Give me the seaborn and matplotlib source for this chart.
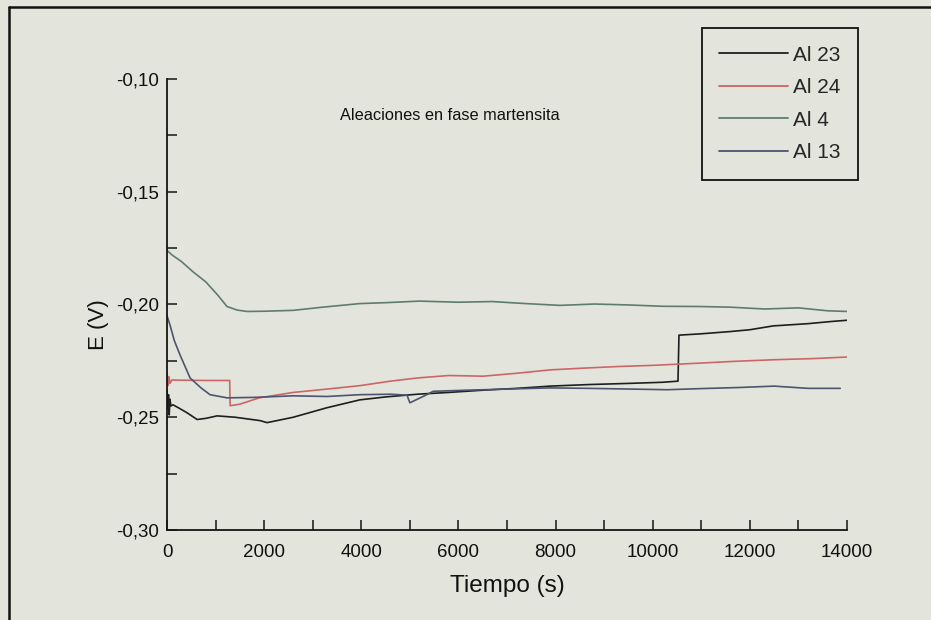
import matplotlib
matplotlib.use("Agg")
import matplotlib.pyplot as plt
from matplotlib.lines import Line2D
from matplotlib.ticker import MultipleLocator, FuncFormatter
import numpy as np
import pandas as pd
import seaborn as sns

# ---------------- data ----------------
series_names = ["Al 23", "Al 24", "Al 4", "Al 13"]

t_al23 = [0, 15, 30, 45, 60, 80, 125, 250, 410, 620, 800, 1030, 1400, 1915, 2060,
          2600, 3290, 3970, 4500, 5150, 5800, 6510, 7200, 7890, 8700, 9500, 10200,
          10520, 10540, 11000, 11600, 12000, 12480, 13200, 13700, 14000]
v_al23 = [-0.238, -0.246, -0.240, -0.249, -0.242, -0.245, -0.2445, -0.2460, -0.248,
          -0.251, -0.2505, -0.2494, -0.2500, -0.2515, -0.2524, -0.2500, -0.2458,
          -0.2423, -0.2410, -0.2398, -0.2390, -0.2380, -0.2372, -0.2362, -0.2355,
          -0.2350, -0.2345, -0.2340, -0.2136, -0.2130, -0.2120, -0.2112, -0.2095,
          -0.2085, -0.2075, -0.2070]

t_al24 = [0, 20, 40, 60, 100, 400, 800, 1290, 1300, 1500, 1900, 2600, 3300, 3970,
          4600, 5150, 5800, 6510, 7200, 7890, 8600, 9300, 10000, 10975, 11700, 12500,
          13300, 14000]
v_al24 = [-0.230, -0.236, -0.232, -0.235, -0.2335, -0.2336, -0.2337, -0.2337,
          -0.2449, -0.2442, -0.2414, -0.2390, -0.2375, -0.2360, -0.2340, -0.2326,
          -0.2315, -0.2318, -0.2305, -0.2290, -0.2282, -0.2275, -0.2270, -0.2260,
          -0.2252, -0.2245, -0.2240, -0.2233]

t_al4 = [0, 100, 300, 535, 800, 1050, 1235, 1450, 1650, 2000, 2600, 3200, 3970, 4500,
         5200, 6000, 6700, 7300, 8090, 8800, 9500, 10200, 10975, 11600, 12300, 13000,
         13600, 14000]
v_al4 = [-0.176, -0.178, -0.181, -0.1855, -0.190, -0.196, -0.2009, -0.2025, -0.2031,
         -0.2030, -0.2026, -0.2012, -0.1996, -0.1992, -0.1985, -0.1990, -0.1987,
         -0.1995, -0.2004, -0.1998, -0.2002, -0.2008, -0.2009, -0.2012, -0.2020,
         -0.2015, -0.2028, -0.2031]

t_al13 = [0, 60, 150, 270, 475, 700, 885, 1235, 1800, 2600, 3300, 3970, 4600, 4940,
          5000, 5300, 5480, 6200, 7000, 7890, 8700, 9500, 10300, 11000, 11800, 12500,
          13200, 13860]
v_al13 = [-0.205, -0.209, -0.216, -0.2225, -0.2326, -0.2370, -0.2400, -0.2414,
          -0.2412, -0.2405, -0.2408, -0.2400, -0.2398, -0.2402, -0.2436, -0.2405,
          -0.2385, -0.2380, -0.2375, -0.2370, -0.2372, -0.2375, -0.2378, -0.2373,
          -0.2368, -0.2362, -0.2372, -0.2372]

x_ticks = [0, 2000, 4000, 6000, 8000, 10000, 12000, 14000]
y_ticks = [-0.30, -0.25, -0.20, -0.15, -0.10]

colors = {"Al 23": "#1e1e1e", "Al 24": "#cc6666", "Al 4": "#5e7c6c", "Al 13": "#4c5470"}

frames = []
for name, tt, vv in zip(series_names, [t_al23, t_al24, t_al4, t_al13],
                        [v_al23, v_al24, v_al4, v_al13]):
    frames.append(pd.DataFrame({"t": tt, "v": vv, "serie": name}))
df = pd.concat(frames, ignore_index=True)

# ---------------- style ----------------
sns.set_theme(style="ticks")
bg = "#e3e5dc"
plt.rcParams["font.family"] = ["Liberation Sans", "DejaVu Sans"]

fig = plt.figure(figsize=(9.31, 6.2), dpi=100, facecolor=bg)
ax = fig.add_axes([0.1794, 0.1452, 0.7304, 0.7274])
ax.set_facecolor(bg)

sns.lineplot(data=df, x="t", y="v", hue="serie", hue_order=series_names,
             palette=colors, estimator=None, sort=False, lw=1.2, ax=ax,
             legend=False)

ax.set_xlim(0, 14000)
ax.set_ylim(-0.30, -0.10)
ax.set_xticks(x_ticks)
ax.set_yticks(y_ticks)
ax.xaxis.set_minor_locator(MultipleLocator(1000))
ax.yaxis.set_minor_locator(MultipleLocator(0.025))
ax.yaxis.set_major_formatter(FuncFormatter(lambda v, p: f"{v:.2f}".replace(".", ",")))
ax.xaxis.set_major_formatter(FuncFormatter(lambda v, p: f"{int(round(v))}"))

for s in ["top", "right"]:
    ax.spines[s].set_visible(False)
for s in ["left", "bottom"]:
    ax.spines[s].set_linewidth(1.3)
    ax.spines[s].set_color("#151515")

ax.tick_params(which="major", direction="in", length=7.5, width=1.1, color="#151515",
               labelsize=13.5, labelcolor="#111111")
ax.tick_params(axis="y", which="major", pad=6)
ax.tick_params(axis="x", which="major", pad=10)
ax.tick_params(which="minor", direction="in", length=7, width=1.1, color="#151515")

ax.set_xlabel("Tiempo (s)", fontsize=17.5, color="#111111", labelpad=10)
ax.set_ylabel("E (V)", fontsize=16, color="#111111")
ax.yaxis.set_label_coords(-0.085, 0.455)

ax.text(0.254, 0.920, "Aleaciones en fase martensita", transform=ax.transAxes,
        fontsize=11.8, color="#111111", ha="left", va="center")

handles = [Line2D([0], [0], color=colors[n], lw=1.3) for n in series_names]
leg = fig.legend(handles, series_names, loc="upper right",
                 bbox_to_anchor=(0.9216, 0.9548), borderaxespad=0,
                 fontsize=15, frameon=True, fancybox=False, handlelength=3.3,
                 handletextpad=0.25, labelspacing=0.65, borderpad=0.84)
leg.get_frame().set_edgecolor("#111111")
leg.get_frame().set_linewidth(1.3)
leg.get_frame().set_facecolor(bg)
leg.get_frame().set_alpha(1)

# scan frame border (left and top)
fig.add_artist(Line2D([0.0097, 0.0097], [0.0, 0.9887], transform=fig.transFigure,
                      color="#111111", lw=1.8))
fig.add_artist(Line2D([0.0097, 1.0], [0.9887, 0.9887], transform=fig.transFigure,
                      color="#111111", lw=1.8))

fig.savefig("out.png", dpi=100, facecolor=bg)
